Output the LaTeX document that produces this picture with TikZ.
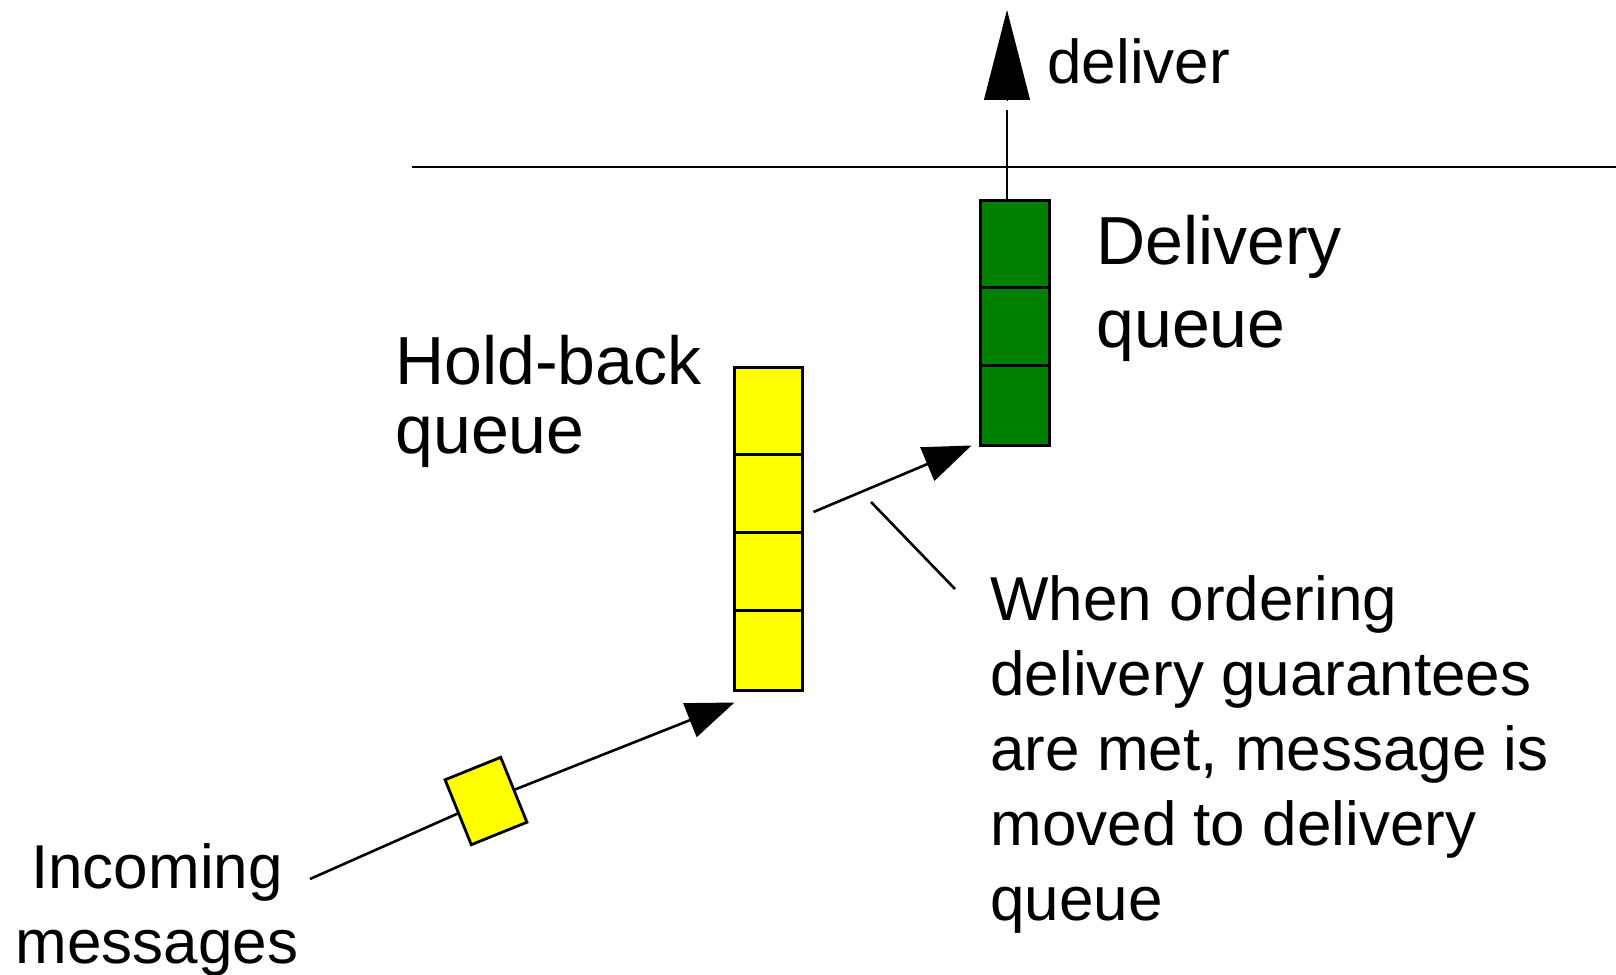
\documentclass[tikz,border=0pt]{standalone}
\usepackage{fontspec}
\setmainfont{Liberation Sans}
\usetikzlibrary{arrows.meta,calc}
\definecolor{holdyellow}{RGB}{255,255,0}
\definecolor{delivgreen}{RGB}{0,128,0}
\tikzset{x=0.5pt, y=-0.5pt,
     queue box/.style={draw, line width=1.5pt, minimum width=34pt, inner sep=0pt},
     queue line/.style={line width=1.5pt},
     msg box/.style={draw, line width=1.4pt, fill=holdyellow, minimum width=30pt,
           minimum height=35pt, inner sep=0pt, rotate=22},
     pipe/.style={line width=1.3pt},
     move/.style={pipe, -{Triangle[length=24pt, width=18pt]}},
     label text/.style={inner sep=0pt, align=left, font=\fontsize{31}{37.5}\selectfont},
     queue label/.style={label text, font=\fontsize{34}{#1}\selectfont}
     }

\begin{document}
\begin{tikzpicture}
\useasboundingbox (0,0) rectangle (1616,974);
% process boundary
\draw[pipe] (412,167) -- (1616,167);
% the two queues
\node[queue box, fill=holdyellow, minimum height=161.5pt] (hq) at (768,528.5) {};
\foreach \y in {89,167,245}
  \draw[queue line] ($(hq.north west)+(0,\y)$) -- ($(hq.north east)+(0,\y)$);
\node[queue box, fill=delivgreen, minimum width=34.5pt, minimum height=122.5pt] (dq) at (1014.5,322.5) {};
\foreach \y in {89,167}
  \draw[queue line] ($(dq.north west)+(0,\y)$) -- ($(dq.north east)+(0,\y)$);
% labels
\node[queue label=34.5, anchor=north west] (hlab) at (395,335) {Hold-back\\queue};
\node[queue label=41.5, anchor=north west] (dlab) at (1096,215) {Delivery\\queue};
\node[label text, align=center, anchor=north] (inlab) at (157,843) {Incoming\\messages};
\node[label text, anchor=north west] (note) at (990,575) {When ordering\\delivery guarantees\\are met, message is\\moved to delivery\\queue};
\node[label text, anchor=base west] (dlv) at (1047,84) {deliver};
% incoming message
\coordinate (src) at (310,879);
\draw[pipe] (src) -- (486,801);
\node[msg box] (msg) at (486,801) {};
\draw[move] (msg) -- ($(hq.south west)+(2,11)$);
% hold-back -> delivery
\draw[move] ($(hq.east)+(10,-16.5)$) -- ($(dq.south west)+(-7,-1)$);
\coordinate (ptr) at (871,502);
\draw[pipe] (ptr) -- ($(note.north west)+(-35,14)$);
% deliver
\coordinate (out) at (1007,10);
\draw[pipe] (dq.north -| out) -- ++(0,-88);
\draw[-{Triangle[length=45pt, width=23pt]}] ($(out)+(0,90)$) -- (out);
\end{tikzpicture}
\end{document}
